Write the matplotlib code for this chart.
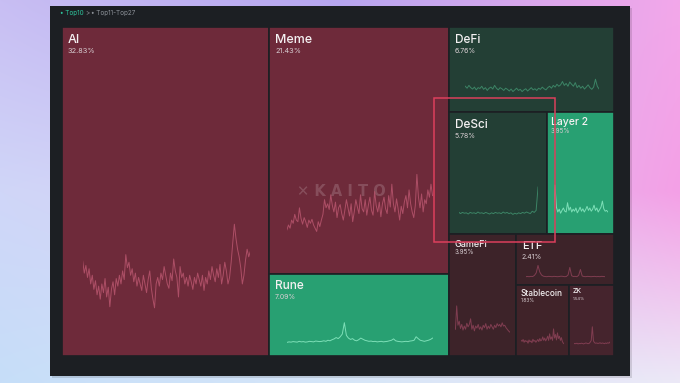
import numpy as np
import matplotlib
matplotlib.use("Agg")
import matplotlib.pyplot as plt
from matplotlib.patches import Rectangle

# --- данные (Top10 нарративов, доля внимания) ---
names = ["AI", "Meme", "Rune", "DeFi", "DeSci", "Layer 2", "GameFi", "ETF", "Stablecoin", "ZK"]
shares = [32.83, 21.43, 7.09, 6.76, 5.78, 3.95, 3.95, 2.41, 1.83, 1.54]

spark_ai = [51, 40, 47, 36, 44, 30, 38, 25, 33, 20, 28, 16, 30, 22, 35, 18, 27, 9, 25, 32,
            20, 35, 28, 38, 30, 42, 34, 57, 45, 50, 38, 44, 32, 40, 28, 36, 30, 24, 38, 30,
            22, 34, 42, 26, 16, 8, 30, 36, 28, 40, 34, 46, 38, 30, 26, 40, 33, 53, 42, 36,
            18, 46, 36, 40, 30, 36, 28, 38, 32, 25, 36, 30, 40, 34, 28, 38, 24, 36, 30, 42,
            34, 46, 38, 32, 44, 36, 48, 30, 38, 50, 42, 30, 36, 50, 68, 85, 72, 62, 55, 45,
            30, 38, 52, 62, 55, 60]
spark_meme = [18, 24, 20, 30, 26, 37, 30, 28, 45, 32, 25, 33, 28, 21, 30, 26, 31, 24, 20, 16,
              28, 22, 30, 37, 55, 45, 50, 43, 61, 48, 40, 52, 33, 45, 49, 38, 30, 42, 55, 45,
              35, 50, 28, 40, 55, 46, 38, 61, 44, 40, 55, 36, 48, 58, 42, 36, 65, 48, 40, 52,
              34, 50, 58, 44, 38, 60, 46, 74, 50, 40, 56, 44, 30, 47, 38, 52, 60, 45, 67, 50,
              40, 33, 48, 86, 58, 45, 62, 40, 55, 50, 67, 58, 74, 60]
spark_rune = [14, 16, 15, 17, 16, 15, 18, 16, 17, 15, 16, 18, 17, 16, 19, 18, 17, 18, 20, 18,
              22, 20, 24, 27, 32, 28, 35, 45, 87, 40, 30, 25, 28, 22, 20, 24, 30, 26, 22, 20,
              18, 19, 17, 18, 16, 17, 18, 16, 17, 18, 20, 22, 27, 20, 18, 17, 16, 17, 18, 17,
              19, 20, 22, 35, 28, 22, 20, 18, 20, 22, 25, 30]
spark_defi = [55, 48, 58, 50, 45, 52, 42, 50, 47, 55, 44, 50, 40, 48, 52, 45, 58, 48, 42, 50,
              46, 40, 48, 44, 38, 45, 36, 42, 48, 40, 44, 36, 42, 46, 38, 44, 50, 42, 46, 40,
              48, 44, 52, 46, 42, 50, 55, 48, 58, 52, 62, 55, 60, 72, 58, 65, 55, 70, 62, 55,
              68, 50, 58, 48, 55, 45, 52, 60, 50, 44, 52, 80, 55, 45]
spark_desci = [18, 14, 17, 15, 16, 13, 17, 15, 16, 14, 18, 15, 16, 14, 17, 15, 13, 16, 14, 17,
               15, 16, 14, 18, 15, 17, 14, 16, 12, 15, 13, 16, 14, 17, 15, 18, 16, 14, 20, 17,
               22, 80]
spark_l2 = [20, 85, 30, 18, 25, 15, 22, 28, 20, 18, 41, 22, 30, 18, 25, 20, 28, 16, 22, 30,
            20, 26, 18, 24, 32, 22, 28, 20, 25, 35, 22, 28, 18, 24, 30, 45, 26, 20, 22, 18]
spark_gamefi = [30, 88, 40, 50, 32, 42, 28, 38, 30, 45, 36, 42, 56, 30, 40, 26, 38, 33, 42, 30,
                36, 28, 40, 34, 44, 30, 38, 32, 42, 36, 30, 40, 34, 44, 38, 42, 36, 46, 38, 40,
                34, 30, 26, 23]
spark_etf = [12, 13, 12, 14, 13, 20, 35, 79, 40, 22, 15, 13, 12, 14, 13, 12, 14, 13, 12, 13,
             15, 14, 12, 13, 22, 67, 18, 13, 14, 12, 20, 55, 16, 13, 12, 14, 13, 12, 13, 14,
             12, 13, 12, 14, 13, 12]
spark_stable = [30, 26, 34, 22, 30, 25, 28, 18, 32, 24, 28, 20, 35, 26, 30, 22, 28, 34, 25, 38,
                28, 32, 45, 30, 40, 28, 36, 48, 30, 58, 35, 45, 30, 79, 40, 55, 32, 62, 38, 48,
                30, 42, 25, 18, 15]
spark_zk = [15, 17, 16, 18, 15, 17, 16, 18, 17, 15, 17, 19, 18, 16, 17, 22, 30, 88, 28, 20,
            18, 19, 17, 18, 20, 17, 19, 18, 16, 19, 17, 20, 18, 23]

sparks = [spark_ai, spark_meme, spark_rune, spark_defi, spark_desci,
          spark_l2, spark_gamefi, spark_etf, spark_stable, spark_zk]

# --- оформление ---
W, H = 680, 383
PANEL = "#1c1f23"
TM_X, TM_Y, TM_W, TM_H = 62, 27, 552, 329

# (заливка, цвет линии)
STYLE = {
    "red":   ("#6e2a3a", "#b4536b"),
    "green": ("#28a072", "#86e6bf"),
    "dgrn":  ("#233f35", "#3f8c6b"),
    "dred":  ("#3d2329", "#874055"),
}
kinds = ["red", "red", "green", "dgrn", "dgrn", "green", "dred", "dred", "dred", "dred"]
tile_fill_override = {"ZK": "#45242d", "Stablecoin": "#402329"}

# размер подписи, размер процента, отступ подписи, отступ процента (px от верха)
LABEL = {
    "AI": (9, 5.3, 16, 26), "Meme": (9, 5.3, 16, 26), "Rune": (8.5, 5, 15, 25),
    "DeFi": (8.5, 5, 16, 26), "DeSci": (8.5, 5, 16, 26), "Layer 2": (7.5, 4.5, 13, 21),
    "GameFi": (6.5, 4.5, 13, 20), "ETF": (8, 5, 15, 25), "Stablecoin": (6, 3.5, 11, 17),
    "ZK": (5, 3, 8, 15),
}
LABEL_DX = {"Layer 2": 4, "Stablecoin": 5, "ZK": 4}

plt.rcParams["font.family"] = ["Inter", "DejaVu Sans"]


def worst(row, side):
    s = sum(row)
    return max(max(side * side * r / (s * s), s * s / (side * side * r)) for r in row)


def squarify(vals, x, y, w, h):
    total = sum(vals)
    sizes = [v / total * w * h for v in vals]
    rects = []
    while sizes:
        side = min(w, h)
        row = [sizes.pop(0)]
        while sizes and worst(row + [sizes[0]], side) <= worst(row, side):
            row.append(sizes.pop(0))
        s = sum(row)
        if w >= h:
            cw = s / h
            yy = y
            for r in row:
                rects.append((x, yy, cw, r / cw))
                yy += r / cw
            x += cw
            w -= cw
        else:
            rh = s / w
            xx = x
            for r in row:
                rects.append((xx, y, r / rh, rh))
                xx += r / rh
            y += rh
            h -= rh
    return rects


fig = plt.figure(figsize=(W / 100, H / 100), dpi=100)
ax = fig.add_axes([0, 0, 1, 1])
ax.set_xlim(0, W)
ax.set_ylim(H, 0)
ax.axis("off")

# фон-градиент
grid = np.array([
    [[200, 190, 243], [183, 166, 240], [243, 168, 234]],
    [[208, 214, 248], [215, 205, 245], [244, 160, 230]],
    [[198, 222, 249], [214, 230, 248], [236, 233, 247]],
], dtype=float) / 255
gy, gx = np.mgrid[0:1:200j, 0:1:300j]
img = np.zeros((200, 300, 3))
for c in range(3):
    g = grid[:, :, c]
    fx = gx * 2
    fy = gy * 2
    ix = np.clip(fx.astype(int), 0, 1)
    iy = np.clip(fy.astype(int), 0, 1)
    tx = fx - ix
    ty = fy - iy
    img[:, :, c] = (g[iy, ix] * (1 - tx) * (1 - ty) + g[iy, ix + 1] * tx * (1 - ty)
                    + g[iy + 1, ix] * (1 - tx) * ty + g[iy + 1, ix + 1] * tx * ty)
ax.imshow(img, extent=(0, W, H, 0), aspect="auto", interpolation="bicubic", zorder=0)

# тёмная панель
ax.add_patch(Rectangle((52, 8), 580, 370, facecolor="#000000", alpha=0.12, lw=0, zorder=1))
ax.add_patch(Rectangle((50, 6), 580, 370, facecolor=PANEL, lw=0, zorder=2))

# хлебные крошки
ax.text(60, 13.5, "• Top10", color="#2ec49c", fontsize=4.6, va="center", zorder=3)
ax.text(85, 13.5, ">", color="#8b9097", fontsize=4.6, va="center", zorder=3)
ax.text(91, 13.5, "• Top11-Top27", color="#8b9097", fontsize=4.6, va="center", zorder=3)

rects = squarify(shares, TM_X, TM_Y, TM_W, TM_H)

for name, share, kind, data, (x, y, w, h) in zip(names, shares, kinds, sparks, rects):
    fill, line = STYLE[kind]
    fill = tile_fill_override.get(name, fill)
    ax.add_patch(Rectangle((x, y), w, h, facecolor=fill, edgecolor=PANEL, lw=1.2, zorder=3))
    fs, ps, dy1, dy2 = LABEL[name]
    dx = LABEL_DX.get(name, 6)
    ax.text(x + dx, y + dy1, name, color="#f4f1f2", fontsize=fs, fontweight="medium",
            va="baseline", zorder=4)
    ax.text(x + dx, y + dy2, f"{share:.2f}%", color="#d9cfd3", fontsize=ps,
            va="baseline", zorder=4)
    # спарклайн в нижней части плитки
    sx0 = x + 0.10 * w
    sx1 = x + 0.91 * w
    sy_top = y + h * (1 - 0.45)
    sy_bot = y + h * (1 - 0.12)
    sa = fig.add_axes([sx0 / W, 1 - sy_bot / H, (sx1 - sx0) / W, (sy_bot - sy_top) / H])
    sa.plot(range(len(data)), data, color=line, lw=0.7, alpha=0.9)
    sa.set_xlim(0, len(data) - 1)
    sa.set_ylim(0, 100)
    sa.axis("off")
    sa.patch.set_alpha(0)

# водяной знак
ax.text(297, 191, "✕ K A I T O", color="#ffffff", alpha=0.17, fontsize=10.5,
        fontweight="bold", va="center", zorder=4, family=["DejaVu Sans"])

# рамка выделения DeSci
over = fig.add_axes([0, 0, 1, 1])
over.set_xlim(0, W)
over.set_ylim(H, 0)
over.axis("off")
over.patch.set_alpha(0)
over.add_patch(Rectangle((434, 98), 121, 144, facecolor="none", edgecolor="#dc3f5c", lw=1.1))

fig.savefig("out.png", dpi=100)
